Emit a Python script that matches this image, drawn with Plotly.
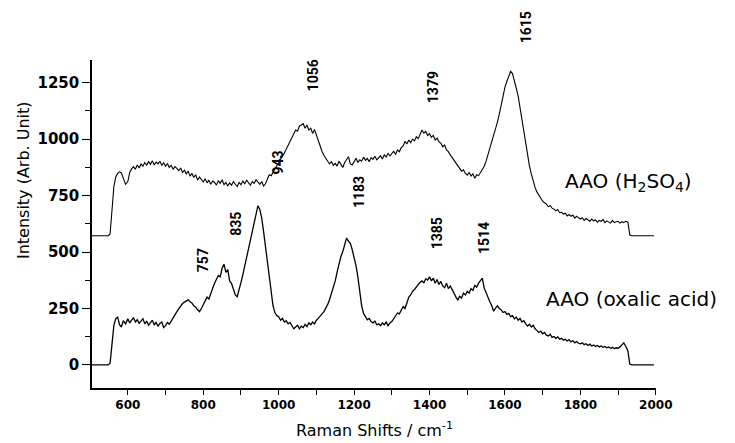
import plotly.graph_objects as go

# Raman shift sampling (cm^-1), shared by both spectra
raman_shift = [
    505, 548, 553, 558, 563, 568, 573, 578, 583, 588, 594,
    600, 605, 610, 615, 620, 625, 630, 635, 640, 645, 650, 655, 660, 665, 670, 675, 680, 685, 690, 695,
    700, 705, 710, 715, 720, 725, 730, 735, 740, 745, 750, 755, 760, 765, 770, 775, 780, 785, 790, 795,
    800, 805, 810, 815, 820, 825, 830, 835, 840, 845, 850, 855, 860, 865, 870, 875, 880, 885, 890, 895,
    900, 905, 910, 915, 920, 925, 930, 935, 940, 945, 950, 955, 960, 965, 970, 975, 980, 985, 990, 995,
    1000, 1005, 1010, 1015, 1020, 1025, 1030, 1035, 1040, 1045, 1050, 1055, 1060, 1065, 1070, 1075, 1080, 1085, 1090, 1095,
    1100, 1105, 1110, 1115, 1120, 1125, 1130, 1135, 1140, 1145, 1150, 1155, 1160, 1165, 1170, 1175, 1180, 1185, 1190, 1195,
    1200, 1205, 1210, 1215, 1220, 1225, 1230, 1235, 1240, 1245, 1250, 1255, 1260, 1265, 1270, 1275, 1280, 1285, 1290, 1295,
    1300, 1305, 1310, 1315, 1320, 1325, 1330, 1335, 1340, 1345, 1350, 1355, 1360, 1365, 1370, 1375, 1380, 1385, 1390, 1395,
    1400, 1405, 1410, 1415, 1420, 1425, 1430, 1435, 1440, 1445, 1450, 1455, 1460, 1465, 1470, 1475, 1480, 1485, 1490, 1495,
    1500, 1505, 1510, 1515, 1520, 1525, 1530, 1535, 1540, 1545, 1550, 1555, 1560, 1565, 1570, 1575, 1580, 1585, 1590, 1595,
    1600, 1605, 1610, 1615, 1620, 1625, 1630, 1635, 1640, 1645, 1650, 1655, 1660, 1665, 1670, 1675, 1680, 1685, 1690, 1695,
    1700, 1705, 1710, 1715, 1720, 1725, 1730, 1735, 1740, 1745, 1750, 1755, 1760, 1765, 1770, 1775, 1780, 1785, 1790, 1795,
    1800, 1805, 1810, 1815, 1820, 1825, 1830, 1835, 1840, 1845, 1850, 1855, 1860, 1865, 1870, 1875, 1880, 1885, 1890, 1895,
    1900, 1905, 1910, 1915, 1920, 1926, 1931, 1936, 1995,
]

# AAO anodised in H2SO4 (offset spectrum)
intensity_h2so4 = [
    572, 572, 580, 700, 790, 832, 848, 855, 850, 826, 800,
    812, 852, 868, 878, 866, 885, 872, 890, 880, 896, 884, 900, 888, 904, 885, 898, 890, 902, 884, 895,
    880, 892, 874, 884, 866, 878, 870, 860, 872, 852, 862, 846, 858, 836, 848, 830, 842, 818, 832, 822,
    810, 824, 806, 818, 800, 814, 808, 796, 816, 804, 820, 798, 808, 792, 806, 796, 812, 800, 790, 808,
    798, 814, 802, 818, 806, 796, 812, 804, 820, 808, 800, 812, 792, 802, 825, 842, 838, 856, 868, 882,
    898, 910, 924, 938, 955, 970, 992, 1008, 1020, 1040, 1035, 1058, 1062, 1068, 1048, 1062, 1040, 1048, 1025, 1042,
    1018, 990, 968, 945, 928, 912, 902, 890, 900, 884, 892, 880, 902, 888, 874, 896, 910, 922, 890, 886,
    900, 915, 896, 908, 902, 920, 906, 914, 900, 918, 910, 924, 908, 916, 926, 912, 930, 920, 936, 926,
    938, 946, 932, 952, 944, 962, 970, 990, 978, 996, 984, 1000, 992, 1010, 1002, 1018, 1040, 1026, 1034, 1016,
    1024, 1008, 1016, 996, 1004, 988, 982, 966, 974, 952, 944, 930, 918, 904, 896, 880, 872, 858, 864, 848,
    840, 852, 836, 846, 826, 842, 838, 852, 862, 880, 902, 930, 955, 985, 1010, 1040, 1075, 1110, 1150, 1195,
    1230, 1255, 1280, 1300, 1290, 1262, 1225, 1190, 1140, 1090, 1030, 975, 925, 880, 845, 812, 785, 765, 750, 738,
    725, 718, 712, 700, 706, 694, 690, 682, 688, 674, 676, 668, 672, 660, 666, 658, 664, 650, 658, 652,
    646, 652, 640, 648, 642, 636, 646, 638, 642, 632, 640, 636, 644, 630, 638, 634, 628, 640, 630, 634,
    636, 628, 634, 630, 636, 632, 575, 572, 572,
]

# AAO anodised in oxalic acid
intensity_oxalic = [
    0, 0, 8, 110, 175, 205, 212, 178, 168, 196, 182,
    204, 186, 198, 210, 190, 200, 184, 196, 204, 182, 194, 176, 190, 198, 178, 188, 172, 184, 190, 166,
    174, 188, 180, 196, 208, 222, 236, 250, 262, 272, 278, 284, 288, 280, 274, 262, 256, 244, 236, 250,
    268, 286, 300, 292, 320, 340, 362, 378, 396, 390, 428, 446, 410, 422, 372, 360, 338, 310, 302, 330,
    365, 400, 440, 478, 515, 556, 598, 635, 672, 705, 688, 650, 590, 520, 450, 380, 318, 262, 232, 218,
    214, 198, 206, 190, 196, 182, 188, 172, 160, 168, 176, 160, 172, 166, 180, 170, 186, 178, 190, 182,
    198, 206, 214, 226, 236, 250, 268, 290, 316, 346, 372, 412, 448, 480, 502, 530, 562, 548, 538, 510,
    480, 440, 390, 330, 262, 228, 212, 200, 206, 192, 186, 194, 178, 182, 174, 186, 178, 190, 174, 186,
    192, 206, 214, 230, 226, 246, 258, 250, 278, 300, 310, 326, 334, 348, 356, 366, 372, 364, 382, 376,
    390, 372, 384, 362, 378, 356, 370, 350, 342, 362, 338, 350, 330, 318, 300, 288, 304, 296, 318, 310,
    326, 318, 338, 330, 352, 344, 362, 372, 384, 340, 318, 296, 280, 262, 238, 252, 262, 250, 244, 232,
    236, 224, 228, 214, 218, 204, 212, 198, 206, 190, 196, 182, 172, 180, 168, 176, 160, 152, 144, 150,
    138, 144, 132, 128, 136, 122, 126, 118, 124, 114, 118, 110, 114, 106, 112, 102, 108, 98, 104, 96,
    94, 98, 90, 94, 86, 92, 84, 88, 82, 86, 80, 84, 78, 82, 76, 80, 74, 78, 72, 76,
    74, 80, 88, 98, 84, 62, 4, 0, 0,
]

# Band assignments marked on the spectra
band_labels = [757, 835, 943, 1056, 1183, 1379, 1385, 1514, 1615]
band_label_y = [464, 627, 897, 1281, 764, 1228, 582, 560, 1493]
band_label_dx = [16, 20, 21, 13, 12, 11, 14, 12, 15]

x_range = [505, 2000.5]
y_range = [-102, 1350]
x_ticks = [600, 800, 1000, 1200, 1400, 1600, 1800, 2000]
y_ticks = [0, 250, 500, 750, 1000, 1250]

fig = go.Figure()
fig.add_trace(go.Scatter(x=raman_shift, y=intensity_h2so4, mode="lines",
                         line=dict(color="black", width=1.1), showlegend=False))
fig.add_trace(go.Scatter(x=raman_shift, y=intensity_oxalic, mode="lines",
                         line=dict(color="black", width=1.3), showlegend=False))


def to_paper_y(v):
    return (v - y_range[0]) / (y_range[1] - y_range[0])


label_font = dict(family="Roboto, sans-serif", size=14, color="black", weight="bold")
for wn, yv, dx in zip(band_labels, band_label_y, band_label_dx):
    fig.add_annotation(x=wn, xref="x", y=to_paper_y(yv), yref="paper", text=str(wn),
                       textangle=-90, showarrow=False, xshift=dx, font=label_font,
                       xanchor="center", yanchor="middle")

series_font = dict(family="DejaVu Sans", size=20, color="black")
fig.add_annotation(x=1753, y=808, text="AAO (H<sub>2</sub>SO<sub>4</sub>)", showarrow=False,
                   xanchor="left", yanchor="middle", font=series_font)
fig.add_annotation(x=1703, y=292, text="AAO (oxalic acid)", showarrow=False,
                   xanchor="left", yanchor="middle", font=series_font)

title_font = dict(family="DejaVu Sans", size=16, color="black")
fig.add_annotation(xref="paper", yref="paper", x=0.5, y=-0.128,
                   text="Raman Shifts / cm<sup>-1</sup>", showarrow=False,
                   xanchor="center", yanchor="middle", font=title_font)
fig.add_annotation(xref="paper", yref="paper", x=-0.1223, y=0.634,
                   text="Intensity (Arb. Unit)", textangle=-90, showarrow=False,
                   xanchor="center", yanchor="middle", font=title_font)

fig.update_xaxes(range=x_range, tickvals=x_ticks, ticktext=[str(v) for v in x_ticks],
                 ticks="outside", ticklen=5, tickwidth=1.2, tickcolor="black",
                 minor=dict(dtick=100, tick0=500, ticks="outside", ticklen=5, tickwidth=1.2, tickcolor="black"),
                 showline=True, linecolor="black", linewidth=1.5,
                 showgrid=False, zeroline=False,
                 tickfont=dict(family="DejaVu Sans", size=12, color="black", weight="bold"))
fig.update_yaxes(range=y_range, tickvals=y_ticks, ticktext=[str(v) for v in y_ticks],
                 ticks="outside", ticklen=8, tickwidth=1.2, tickcolor="black",
                 minor=dict(dtick=125, tick0=0, ticks="outside", ticklen=5, tickwidth=1.2, tickcolor="black"),
                 showline=True, linecolor="black", linewidth=1.5,
                 showgrid=False, zeroline=False,
                 tickfont=dict(family="DejaVu Sans", size=15, color="black", weight="bold"))

fig.update_layout(width=735, height=443, margin=dict(l=92, r=79, t=60, b=55),
                  plot_bgcolor="white", paper_bgcolor="white")

fig.write_html("out.html")
